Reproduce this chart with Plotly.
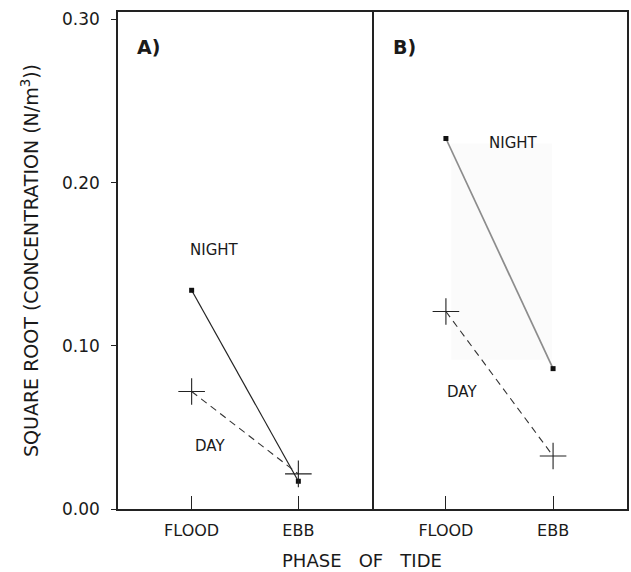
import plotly.graph_objects as go

phases = ["FLOOD", "EBB"]
night_a = [0.134, 0.017]
day_a = [0.072, 0.0215]
night_b = [0.227, 0.086]
day_b = [0.121, 0.0325]
y_ticks = [0.0, 0.10, 0.20, 0.30]
y_tick_labels = ["0.00", "0.10", "0.20", "0.30"]

FONT = "DejaVu Sans, Arial, sans-serif"
INK = "#1a1a1a"
xpos = [0, 1]

fig = go.Figure()

# faint scan artefact rectangle in panel B
fig.add_shape(type="rect", xref="x2", yref="y2", x0=0.05, x1=0.99, y0=0.0915, y1=0.224,
              fillcolor="#fbfbfb", line=dict(width=0), layer="below")

fig.add_trace(go.Scatter(x=xpos, y=night_a, mode="lines+markers", xaxis="x", yaxis="y",
                         line=dict(color="#222", width=1.2),
                         marker=dict(symbol="square", size=5, color="#111"), showlegend=False))
fig.add_trace(go.Scatter(x=xpos, y=day_a, mode="lines+markers", xaxis="x", yaxis="y",
                         line=dict(color="#333", width=1.1, dash="7px,5px"),
                         marker=dict(symbol="cross-thin", size=19, color="#222",
                                     line=dict(width=1.1, color="#222")), showlegend=False))
fig.add_trace(go.Scatter(x=xpos, y=night_b, mode="lines+markers", xaxis="x2", yaxis="y2",
                         line=dict(color="#8c8c8c", width=1.7),
                         marker=dict(symbol="square", size=5, color="#111"), showlegend=False))
fig.add_trace(go.Scatter(x=xpos, y=day_b, mode="lines+markers", xaxis="x2", yaxis="y2",
                         line=dict(color="#333", width=1.1, dash="7px,5px"),
                         marker=dict(symbol="cross-thin", size=19, color="#222",
                                     line=dict(width=1.1, color="#222")), showlegend=False))

xr = [-0.69, 1.69]
yr = [0, 0.3045]
xcommon = dict(range=xr, tickvals=xpos, ticktext=phases, ticks="inside", ticklen=13,
               tickcolor="#222", tickwidth=1.2, showline=True, linecolor="#222", linewidth=1.5,
               mirror=True, showgrid=False, zeroline=False, ticklabelstandoff=6,
               tickfont=dict(family=FONT, size=16, color=INK))
fig.update_layout(
    width=631, height=572,
    margin=dict(l=118, r=4, t=12, b=63),
    paper_bgcolor="white", plot_bgcolor="white",
    xaxis=dict(domain=[0, 0.499], anchor="y", **xcommon),
    xaxis2=dict(domain=[0.499, 1], anchor="y2", **xcommon),
    yaxis=dict(range=yr, tickvals=y_ticks, ticktext=y_tick_labels, ticks="outside", ticklen=5,
               tickcolor="#222", showline=True, linecolor="#222", linewidth=1.5, mirror=True,
               showgrid=False, zeroline=False, anchor="x", ticklabelstandoff=8,
               tickfont=dict(family=FONT, size=17, color=INK),
               title=dict(text="SQUARE ROOT (CONCENTRATION (N/m<sup>3</sup>))",
                          font=dict(family=FONT, size=19, color=INK), standoff=18)),
    yaxis2=dict(range=yr, showticklabels=False, ticks="", showline=True, linecolor="#222",
                linewidth=1.5, mirror=False, side="right", showgrid=False, zeroline=False,
                anchor="x2"),
)

ann = [
    dict(text="<b>A)</b>", xref="paper", yref="paper", x=(148 - 118) / 509, y=(509 - 47) / 497, size=19),
    dict(text="<b>B)</b>", xref="paper", yref="paper", x=(404 - 118) / 509, y=(509 - 47) / 497, size=19),
    dict(text="NIGHT", xref="x", yref="y", x=0.21, y=0.1585, size=15),
    dict(text="DAY", xref="x", yref="y", x=0.17, y=0.0385, size=15),
    dict(text="NIGHT", xref="x2", yref="y2", x=0.63, y=0.2245, size=15),
    dict(text="DAY", xref="x2", yref="y2", x=0.15, y=0.0715, size=15),
]
for a in ann:
    fig.add_annotation(text=a["text"], xref=a["xref"], yref=a["yref"], x=a["x"], y=a["y"],
                       showarrow=False, xanchor="center", yanchor="middle",
                       font=dict(family=FONT, size=a["size"], color=INK))

fig.add_annotation(text="PHASE\u00a0\u00a0 OF\u00a0\u00a0 TIDE", xref="paper", yref="paper",
                   x=(362 - 118) / 509, y=-(560 - 509) / 497, showarrow=False,
                   xanchor="center", yanchor="middle",
                   font=dict(family=FONT, size=18, color=INK))

fig.write_html("out.html")
